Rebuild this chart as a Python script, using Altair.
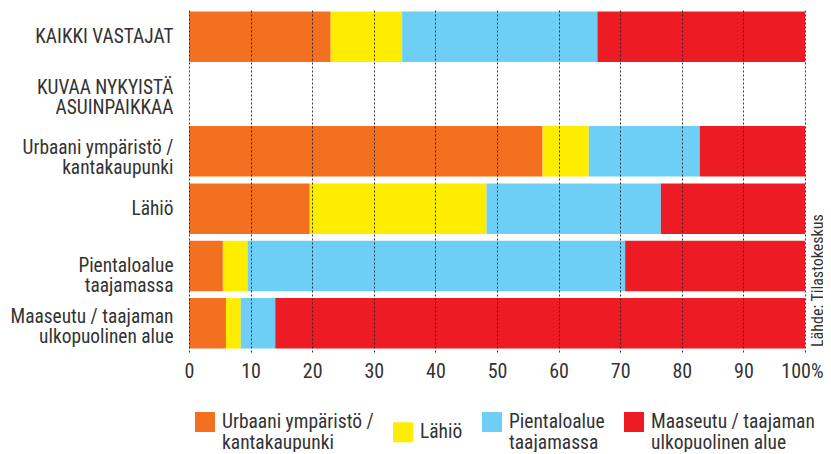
import altair as alt
import pandas as pd

# Rows of the chart ("|" marks a line break in the label)
categories = [
    "KAIKKI VASTAJAT",
    "KUVAA NYKYISTÄ|ASUINPAIKKAA",
    "Urbaani ympäristö /|kantakaupunki",
    "Lähiö",
    "Pientaloalue|taajamassa",
    "Maaseutu / taajaman|ulkopuolinen alue",
]
series = [
    "Urbaani ympäristö /|kantakaupunki",
    "Lähiö",
    "Pientaloalue|taajamassa",
    "Maaseutu / taajaman|ulkopuolinen alue",
]
colors = ["#F37021", "#FFED00", "#6DCFF6", "#ED1C24"]

# Percent shares per row (None = heading row without a bar)
urbaani = [23.0, None, 57.4, 19.6, 5.5, 6.0]
lahio = [11.6, None, 7.5, 28.7, 4.0, 2.4]
pientalo = [31.7, None, 18.0, 28.3, 61.3, 5.6]
maaseutu = [33.7, None, 17.1, 23.4, 29.2, 86.0]

x_ticks = [0, 10, 20, 30, 40, 50, 60, 70, 80, 90, 100]
source = "Lähde: Tilastokeskus"

rows = []
for si, (name, vals) in enumerate(zip(series, [urbaani, lahio, pientalo, maaseutu])):
    for cat, v in zip(categories, vals):
        if v is not None:
            rows.append({"row": cat, "series": name, "idx": si, "value": v})
df = pd.DataFrame(rows)

FONT = "Roboto Condensed, Roboto"
TXT = "#333333"

# small vertical nudges of some row labels (as in the original layout)
label_nudge = {categories[1]: -6, categories[2]: -3, categories[5]: -6}
y_label_offset = {
    "condition": [
        {"test": f"datum.value === '{k}'", "value": v} for k, v in label_nudge.items()
    ],
    "value": 0,
}
x_label_offset = {
    "condition": [{"test": "datum.value === 100", "value": -3}],
    "value": 0,
}

bars = alt.Chart(df).mark_bar().encode(
    y=alt.Y(
        "row:N",
        title=None,
        sort=categories,
        scale=alt.Scale(domain=categories, paddingInner=0.12, paddingOuter=0.06),
        axis=alt.Axis(
            labelExpr="split(datum.label, '|')",
            labelFontSize=19.4,
            labelLineHeight=20,
            labelColor=TXT,
            labelFont=FONT,
            labelPadding=16,
            labelLimit=0,
            labelOffset=y_label_offset,
            ticks=False,
            domain=False,
            grid=False,
        ),
    ),
    x=alt.X(
        "value:Q",
        title=None,
        stack="zero",
        scale=alt.Scale(domain=[0, 100], nice=False),
        axis=alt.Axis(
            values=x_ticks,
            labelExpr="datum.value == 100 ? '100%' : datum.label",
            labelFontSize=20,
            labelColor=TXT,
            labelFont=FONT,
            labelPadding=9,
            labelFlush=False,
            labelOverlap=False,
            labelOffset=x_label_offset,
            ticks=False,
            domain=False,
            grid=True,
            gridColor="#222222",
            gridDash=[2, 2],
            gridWidth=1,
            gridOpacity=0.9,
            zindex=1,
        ),
    ),
    color=alt.Color(
        "series:N",
        scale=alt.Scale(domain=series, range=colors),
        legend=alt.Legend(
            title=None,
            orient="none",
            legendX=6,
            legendY=394.5,
            direction="horizontal",
            columns=4,
            symbolType="M-1,-0.05L1,-0.05L1,1.95L-1,1.95Z",
            symbolSize=400,
            symbolStrokeWidth=0,
            symbolOpacity=1,
            labelExpr="split(datum.label, '|')",
            labelBaseline="top",
            labelFontSize=19.5,
            labelOffset=7,
            labelColor=TXT,
            labelFont=FONT,
            labelLimit=0,
            columnPadding=19,
        ),
    ),
    order=alt.Order("idx:Q"),
)

src = alt.Chart(pd.DataFrame({"t": [source]})).mark_text(
    angle=270, align="left", baseline="middle", fontSize=16, font=FONT, color=TXT
).encode(text="t:N", x=alt.value(629), y=alt.value(339))

chart = alt.layer(bars, src).properties(
    width=616,
    height=344,
    autosize=alt.AutoSizeParams(type="none"),
    padding={"left": 181, "top": 0, "right": 18, "bottom": 100},
).configure_view(strokeWidth=0)

chart.save("out.html", embed_options={"renderer": "svg", "actions": False})
